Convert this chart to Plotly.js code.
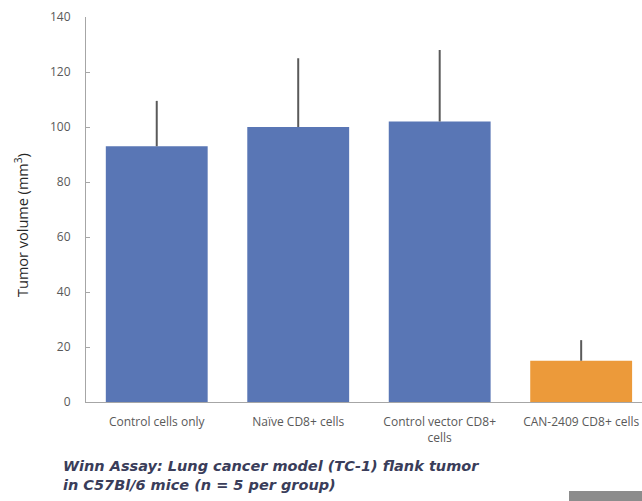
<!DOCTYPE html>
<html>
<head>
<meta charset="utf-8">
<script src="https://cdn.plot.ly/plotly-3.0.1.min.js"></script>
<style>html,body{margin:0;padding:0;background:#fff;}#chart{width:642px;height:501px;}</style>
</head>
<body>
<div id="chart"></div>
<script>
var categories = ["Control cells only", "Naïve CD8+ cells", "Control vector CD8+<br>cells", "CAN-2409 CD8+ cells"];
var tumorVolume = [93, 100, 102, 15];
var errorPlus = [16.5, 25, 26, 7.5];
var barColors = ["#5976B5", "#5976B5", "#5976B5", "#EC9A3A"];
var yTicks = [0, 20, 40, 60, 80, 100, 120, 140];

var trace = {
  type: "bar",
  x: categories,
  y: tumorVolume,
  marker: {color: barColors},
  width: 0.72,
  error_y: {
    type: "data",
    symmetric: false,
    array: errorPlus,
    arrayminus: errorPlus.map(function(){return 0;}),
    color: "#5a5a5a",
    thickness: 2,
    width: 0
  },
  hoverinfo: "none"
};

var layout = {
  width: 642,
  height: 501,
  margin: {l: 86, r: 0, t: 17, b: 99},
  paper_bgcolor: "#fff",
  plot_bgcolor: "#fff",
  showlegend: false,
  bargap: 0.28,
  xaxis: {
    type: "category",
    range: [-0.5, 3.43],
    showline: true,
    linecolor: "#a6a6a6",
    linewidth: 1,
    ticks: "",
    showgrid: false,
    zeroline: false,
    ticklabelstandoff: 9,
    tickfont: {family: "Open Sans, sans-serif", size: 12, color: "#595959"}
  },
  yaxis: {
    range: [0, 140],
    tickvals: yTicks,
    showline: true,
    linecolor: "#a6a6a6",
    linewidth: 1,
    ticks: "inside",
    ticklen: 4,
    tickcolor: "#a6a6a6",
    showgrid: false,
    zeroline: false,
    ticklabelstandoff: 12,
    tickfont: {family: "Open Sans, sans-serif", size: 12, color: "#595959"}
  },
  annotations: [
    {
      xref: "paper", yref: "paper",
      x: -0.115, y: 0.46,
      xanchor: "center", yanchor: "middle",
      textangle: -90,
      showarrow: false,
      text: "Tumor volume (mm<sup>3</sup>)",
      font: {family: "Open Sans, sans-serif", size: 14.5, color: "#262626"}
    },
    {
      xref: "paper", yref: "paper",
      x: -0.045, y: -0.14,
      xanchor: "left", yanchor: "top",
      align: "left",
      showarrow: false,
      text: "<b><i>Winn Assay: Lung cancer model (TC-1) flank tumor<br>in C57Bl/6 mice (n = 5 per group)</i></b>",
      font: {family: "DejaVu Sans, sans-serif", size: 14.5, color: "#3a3d5a"}
    }
  ],
  shapes: [
    {
      type: "rect", xref: "paper", yref: "paper",
      x0: 0.8687, x1: 1.0, y0: -0.257, y1: -0.231,
      fillcolor: "#8c8c8c", line: {width: 0}
    }
  ]
};

Plotly.newPlot("chart", [trace], layout, {staticPlot: true, displayModeBar: false});
</script>
</body>
</html>
